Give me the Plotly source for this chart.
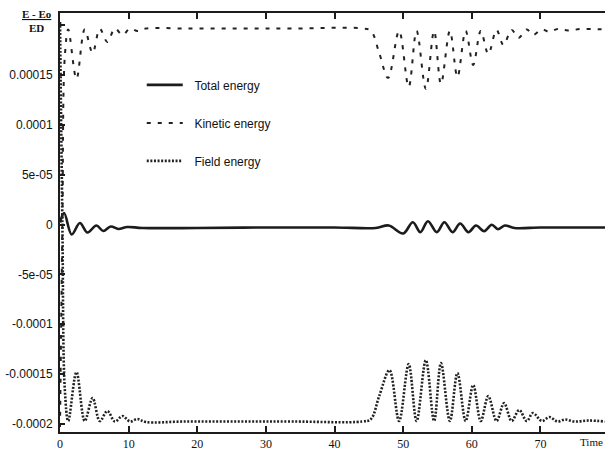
import numpy as np
import plotly.graph_objects as go

# Energy deviations (E - Eo) / ED, values in units of 1e-6, read at turning points
total_t = [0, 0.6, 1.7, 2.9, 4.0, 5.3, 6.3, 7.4, 8.5, 9.8, 12, 20, 30, 40, 46,
           47.9, 50.0, 51.4, 52.5, 53.6, 54.9, 56.0, 57.2, 58.3, 59.5, 60.6,
           61.8, 62.9, 63.8, 64.8, 66.2, 70, 75, 79.4]
total_v = [2, 11.5, -10, 1.5, -8, -1, -6.5, -2, -4.5, -2.5, -3.5, -3.5, -3, -3, -3.5,
           -1, -9, 2.3, -7.7, 3.3, -7.7, 2.3, -7.7, 1, -7.7, -1,
           -6.7, -0.3, -4.7, -1, -3.5, -3, -3, -3]

kinetic_t = [0, 0.35, 0.7, 1.2, 2.4, 3.6, 4.75, 5.8, 6.9, 8.0, 9.1, 10.2, 11.3, 12.5,
             18, 26, 34, 44, 45.3, 46.5, 47.8, 49.4, 50.8, 51.95, 53.3, 54.5, 55.5,
             56.8, 57.9, 59.1, 60.2, 61.3, 62.4, 63.6, 64.6, 65.8, 66.8, 68.0, 68.9,
             70.2, 71.3, 72.5, 74, 76, 79.4]
kinetic_v = [-203, 0, 168, 195.5, 146, 195.5, 172, 196, 183, 196.5, 190, 196.5, 194, 196.5,
             196.5, 196.5, 196.5, 196.5, 194, 172, 147, 194, 138, 194, 136, 194, 141,
             194, 148, 194, 160, 194, 171, 195, 180, 195, 187, 195.5, 190,
             195.5, 193, 196, 194.5, 196, 195.5]

field_t = [0, 0.35, 0.7, 1.2, 2.4, 3.6, 4.75, 5.8, 6.9, 8.0, 9.1, 10.2, 11.3, 12.5,
           18, 26, 34, 44, 45.3, 46.5, 48.0, 49.4, 50.8, 51.95, 53.3, 54.5, 55.5,
           56.8, 57.9, 59.1, 60.2, 61.3, 62.4, 63.6, 64.7, 65.8, 66.9, 68.0, 68.9,
           70.2, 71.3, 72.5, 73.6, 75, 77, 79.4]
field_v = [203, 0, -165, -197, -148, -197, -174, -197, -187, -197.5, -192, -197.5, -195, -198,
           -197.5, -197.5, -197.5, -197.5, -195, -172, -146, -197, -140, -197, -136, -197, -139,
           -197, -149, -197, -161, -197, -172, -197, -179, -197, -186, -197, -189,
           -197, -193, -197.5, -195.5, -197.5, -196.5, -197.5]

x_ticks = [0, 10, 20, 30, 40, 50, 60, 70]
y_ticks = [-0.0002, -0.00015, -0.0001, -5e-05, 0, 5e-05, 0.0001, 0.00015, 0.0002]
y_labels = ["-0.0002", "-0.00015", "-0.0001", "-5e-05", "0", "5e-05", "0.0001", "0.00015", ""]

SCALE = 1e-6
ink = "#1c1c1c"
pad = "&nbsp;&nbsp;"

fig = go.Figure()
fig.add_trace(go.Scatter(
    x=total_t, y=np.array(total_v) * SCALE, name=pad + "Total energy", mode="lines",
    line=dict(color=ink, width=2.6, shape="spline"), legendgroup="a"))
fig.add_trace(go.Scatter(
    x=kinetic_t, y=np.array(kinetic_v) * SCALE, name=pad + "Kinetic energy", mode="lines",
    line=dict(color="#222", width=2, dash="4px,7px", shape="spline"), legendgroup="b"))
fig.add_trace(go.Scatter(
    x=field_t, y=np.array(field_v) * SCALE, name=pad + "Field energy", mode="lines",
    line=dict(color="#222", width=2.6, dash="2px,1.6px", shape="spline"), legendgroup="c"))

y_range = [-208e-6, 212e-6]

fig.update_layout(
    width=605, height=450,
    margin=dict(l=60, r=0, t=13, b=18),
    paper_bgcolor="white", plot_bgcolor="white",
    showlegend=True,
    legend=dict(x=0.15, y=0.863, xanchor="left", yanchor="top",
                bgcolor="rgba(0,0,0,0)", itemwidth=36, tracegroupgap=19,
                font=dict(family="Liberation Sans", size=12, color="#111")),
    xaxis=dict(range=[0, 79.4], tickmode="array", tickvals=x_ticks,
               ticktext=[str(v) for v in x_ticks], ticks="inside", ticklen=6,
               tickwidth=1.5, tickcolor=ink, showline=True, linewidth=2,
               linecolor=ink, mirror="ticks", showgrid=False, zeroline=False,
               tickfont=dict(family="Liberation Serif", size=12, color="#111")),
    yaxis=dict(range=y_range, tickmode="array", tickvals=y_ticks, ticktext=y_labels,
               ticks="inside", ticklen=5, tickwidth=1.5, tickcolor=ink,
               showline=True, linewidth=2, linecolor=ink, showgrid=False,
               zeroline=False, ticklabelstandoff=3,
               tickfont=dict(family="Liberation Sans", size=12, color="#111")),
    yaxis2=dict(range=y_range, overlaying="y", side="right", tickmode="array",
                tickvals=y_ticks, ticks="inside", ticklen=5, tickwidth=1.5,
                tickcolor=ink, showline=False, showticklabels=False,
                showgrid=False, zeroline=False),
)

# Axis captions
fig.add_annotation(text="<b><u>E - Eo</u></b><br><b>ED</b>", xref="paper", yref="paper",
                   x=-0.042, y=1.017, xanchor="center", yanchor="top", showarrow=False,
                   font=dict(family="Liberation Serif", size=11, color="#111"))
fig.add_annotation(text="Time", xref="paper", yref="paper", x=0.998, y=-0.023,
                   xanchor="right", yanchor="middle", showarrow=False, borderpad=0,
                   font=dict(family="Liberation Serif", size=11, color="#111"))

fig.write_html("out.html")
